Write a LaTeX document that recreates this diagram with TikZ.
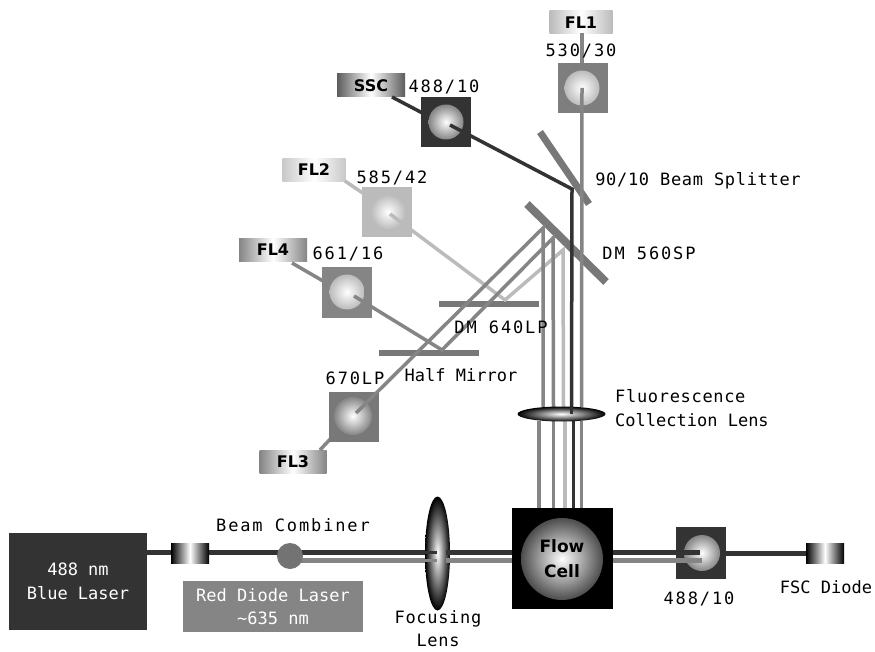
\documentclass[tikz,border=0pt]{standalone}
\usepackage{fontspec}
\setmainfont{DejaVu Sans}
\newfontfamily\monof{DejaVu Sans Mono}
\newfontfamily\monow[LetterSpace=11]{DejaVu Sans Mono}
\newfontfamily\monom[LetterSpace=4]{DejaVu Sans Mono}
\usetikzlibrary{shapes.geometric}
\definecolor{dk}{HTML}{333333}
\definecolor{md}{HTML}{858585}
\definecolor{lt}{HTML}{BBBBBB}
\tikzset{
  x=1pt,y=-1pt,
  lab/.style={inner sep=0pt,anchor=base,font=\monow\fontsize{17}{22}\selectfont,text=black},
  labm/.style={lab,font=\monom\fontsize{17}{22}\selectfont},
  labn/.style={lab,font=\monof\fontsize{17}{22}\selectfont},
  mlab/.style={inner sep=0pt,align=center,font=\monof\fontsize{17}{23.5}\selectfont},
  tag/.style={inner sep=0pt,minimum width=#1,minimum height=23pt,font=\bfseries\fontsize{16}{16}\selectfont},
  filt/.style={inner sep=0pt,minimum size=50pt,fill=#1},
  disc/.style={circle,inner sep=0pt,minimum size=35pt,shade,shading=radial,inner color=white,outer color=#1},
  shut/.style={inner sep=0pt,minimum width=38pt,minimum height=20pt,left color=black,right color=black,middle color=white},
  mirror/.style={line width=7pt,color=md!90!black},
  bm/.style={line width=3.5pt,color=#1,line join=miter},
  hb/.style={line width=5pt,color=#1},
}
\begin{document}
\begin{tikzpicture}
\useasboundingbox (0,0) rectangle (875,652);
\fill[white] (0,0) rectangle (875,652);
% labelled boxes
\node[tag=63pt,left color=lt,right color=lt,middle color=white] (fl1) at (581,22.5) {FL1};
\node[tag=68pt,left color=dk!80,right color=dk!80,middle color=white] (ssc) at (371,85.5) {SSC};
\node[tag=63pt,left color=lt!80,right color=lt!80,middle color=white] (fl2) at (314,170) {FL2};
\node[tag=68pt,left color=md,right color=md,middle color=white] (fl4) at (273,250) {FL4};
\node[tag=67pt,left color=md,right color=md,middle color=white] (fl3) at (293,461.5) {FL3};
% free bends of the beams
\coordinate (bSSC) at (572,189);
\coordinate (b2a) at (505,300);
\coordinate (b2b) at (563,250);
\coordinate (b4a) at (442,350);
\coordinate (b4b) at (553,238);
\coordinate (b3b) at (543,228);
\coordinate (a1) at (543,407); \coordinate (a2) at (553.5,407); \coordinate (a3) at (563.5,407); \coordinate (a4) at (571.5,407); \coordinate (a5) at (581.5,407);
\coordinate (c1) at (539,421); \coordinate (c2) at (553.5,421); \coordinate (c3) at (565,421); \coordinate (c4) at (573.5,421); \coordinate (c5) at (581.5,421);
\coordinate (d1) at (539,508); \coordinate (d2) at (553.5,508); \coordinate (d3) at (565,508); \coordinate (d4) at (573.5,508); \coordinate (d5) at (581.5,508);
\coordinate (hd1) at (437,552); \coordinate (hg1) at (437,560);
\coordinate (hd2) at (446,552); \coordinate (hg2) at (446,560);
\coordinate (hd3) at (512,552); \coordinate (hg3) at (512,560);
\coordinate (hd4) at (613,552); \coordinate (hg4) at (613,560);
\coordinate (hd5) at (700,552); \coordinate (hg5) at (702,560);
\coordinate (hd0) at (147,552); \coordinate (hg0) at (290,560);
\coordinate (sp1) at (540,132); \coordinate (sp2) at (589,204);
\coordinate (dm1) at (527,204); \coordinate (dm2) at (606,282);
\coordinate (dn1) at (439,304); \coordinate (dn2) at (539,304);
\coordinate (hm1) at (379,353); \coordinate (hm2) at (479,353);
% mirrors
\draw[mirror] (sp1) -- (sp2);
\draw[mirror,line width=8pt] (dm1) -- (dm2);
\draw[mirror,line width=5.5pt] (dn1) -- (dn2);
\draw[mirror,line width=5.5pt] (hm1) -- (hm2);
% outer beam pieces between tags and filters
\draw[bm=md] (582,33) coordinate (fl1s) -- (582,64);
\draw[bm=dk] (392,97) coordinate (sscs) -- (430,117);
\draw[bm=lt] (345,181) coordinate (fl2s) -- (370,198);
\draw[bm=md] (292,263) coordinate (fl4s) -- (330,285);
\draw[bm=md] (320,450) coordinate (fl3s) -- (335,434);
% filters
\node[filt=md!95!black] (f1) at (582.5,88.5) {};
\node[filt=dk] (fs) at (445.5,122) {};
\node[filt=lt] (f2) at (386.5,212.5) {};
\node[filt=md] (f4) at (346.5,292.5) {};
\node[filt=md!90!black] (f3) at (353.5,416.5) {};
\node[filt=dk,minimum height=52pt] (ff) at (701,553) {};
\node[disc=lt] (d1c) at (582,88) {};
\node[disc=md] (dsc) at (446,122) {};
\node[disc=lt] (d2c) at (388,212) {};
\node[disc=lt] (d4c) at (347,292) {};
\node[disc=md,minimum size=38pt] (d3c) at (353,416) {};
\node[disc=md,minimum size=36pt] (dfc) at (702,553) {};
% fluorescence beams
\draw[bm=lt] (390,214) coordinate (s2) -- (b2a) -- (b2b) -- (a3);
\draw[bm=md] (354,296) coordinate (s4) -- (b4a) -- (b4b) -- (a2);
\draw[bm=md] (356,413) coordinate (s3) -- (b3b) -- (a1);
\draw[bm=dk] (450,125) coordinate (ss) -- (bSSC) -- (a4);
\draw[bm=md] (582,88) coordinate (s1) -- (a5);
\draw[bm=md] (c1) -- (d1);
\draw[bm=md] (c2) -- (d2);
\draw[bm=lt] (c3) -- (d3);
\draw[bm=dk] (c4) -- (d4);
\draw[bm=md] (c5) -- (d5);
% collection lens
\node[ellipse,inner sep=0pt,minimum width=88pt,minimum height=15pt,shade,shading=radial,inner color=white,outer color=black] (cl) at (561.5,414) {};
\draw[bm=dk] (a4) -- (571.5,414);
% laser path
\node[inner sep=0pt,minimum width=138pt,minimum height=97pt,fill=dk,text=white,mlab] (blue) at (78,581.5) {488 nm\\Blue Laser};
\node[inner sep=0pt,minimum width=180pt,minimum height=51pt,fill=md,text=white,mlab] (red) at (273,606.5) {Red Diode Laser\\\textasciitilde 635 nm};
\draw[hb=dk] (hd0) -- (hd1);
\draw[hb=md] (hg0) -- (hg1);
\node[shut] (s-in) at (190,553) {};
\node[circle,fill=black!55,inner sep=0pt,minimum size=26pt] (comb) at (290,556) {};
\node[ellipse,inner sep=0pt,minimum width=25pt,minimum height=114pt,shade,shading=radial,inner color=white,outer color=black] (fl) at (437.5,553.5) {};
\draw[hb=dk,line width=3pt] (420,552) -- (hd1);
\draw[hb=md,line width=3pt] (420,560) -- (hg1);
\draw[hb=dk] (hd2) -- (hd3);
\draw[hb=md] (hg2) -- (hg3);
% flow cell
\node[inner sep=0pt,minimum size=101pt,fill=black] (cell) at (562.5,558.5) {};
\node[circle,inner sep=0pt,minimum size=82pt,shade,shading=radial,inner color=white,outer color=black!70,align=center,font=\bfseries\fontsize{17}{25}\selectfont] (cc) at (562,559) {Flow\\Cell};
% forward scatter
\draw[hb=dk] (hd4) -- (hd5);
\draw[hb=md] (hg4) -- (hg5);
\node[shut] (fsc) at (825,553) {};
\draw[hb=dk] (ff.east |- fsc) -- (fsc.west);
% labels
\node[lab] at (581,57) {530/30};
\node[lab] at (444,93) {488/10};
\node[lab] at (392,184) {585/42};
\node[lab] at (348,260) {661/16};
\node[lab] at (355,384) {670LP};
\node[labm] at (698,186) {90/10 Beam Splitter};
\node[lab] at (649,260) {DM 560SP};
\node[lab] at (501,333) {DM 640LP};
\node[labn] at (461,381) {Half Mirror};
\node[labm,anchor=base west] at (615,402) {Fluorescence};
\node[labn,anchor=base west] at (615,426) {Collection Lens};
\node[lab] at (293,531) {Beam Combiner};
\node[inner sep=0pt,align=center,font=\monom\fontsize{17}{23}\selectfont,text=black] (ftext) at (438,629) {Focusing\\Lens};
\node[lab] at (699,604) {488/10};
\node[labn] at (826,593) {FSC Diode};
\end{tikzpicture}
\end{document}
